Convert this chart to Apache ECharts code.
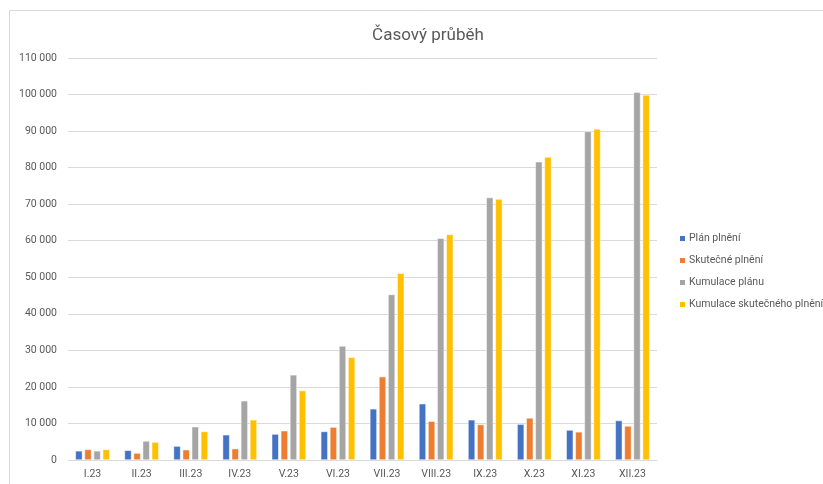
<!DOCTYPE html>
<html>
<head>
<meta charset="utf-8">
<script src="https://cdn.jsdelivr.net/npm/echarts@6/dist/echarts.min.js"></script>
<style>
  html, body { margin: 0; padding: 0; background: #fff; }
  #chart { width: 823px; height: 484px; }
</style>
</head>
<body>
<div id="chart"></div>
<script>
// kategorie (měsíce)
const months = ['I.23', 'II.23', 'III.23', 'IV.23', 'V.23', 'VI.23', 'VII.23', 'VIII.23', 'IX.23', 'X.23', 'XI.23', 'XII.23']
// hodnoty
const planPlneni = [2500, 2650, 3800, 6900, 7100, 7800, 14000, 15400, 11000, 9800, 8200, 10800]
const skutecnePlneni = [2900, 1900, 2800, 3100, 8000, 9000, 22800, 10600, 9700, 11500, 7700, 9300]
const kumulacePlanu = [2500, 5200, 9100, 16200, 23300, 31200, 45300, 60700, 71800, 81600, 89900, 100600]
const kumulaceSkutecne = [2900, 4900, 7800, 11000, 19000, 28100, 51100, 61700, 71400, 82900, 90600, 99900]
const seriesNames = ['Plán plnění', 'Skutečné plnění', 'Kumulace plánu', 'Kumulace skutečného plnění']
const colors = ['#4472C4', '#ED7D31', '#A5A5A5', '#FFC000']

const font = 'Roboto'
const chart = echarts.init(document.getElementById('chart'))

const dataSets = [planPlneni, skutecnePlneni, kumulacePlanu, kumulaceSkutecne]

chart.setOption({
    animation: false,
    color: colors,
    title: {
        text: 'Časový průběh',
        left: 423,
        top: 22,
        textAlign: 'center',
        textStyle: { fontFamily: font, fontSize: 17, fontWeight: 'normal', color: '#595959' }
    },
    graphic: [{
        // rámeček oblasti grafu
        type: 'rect',
        shape: { x: 9.5, y: 10.5, width: 900, height: 600 },
        style: { fill: 'none', stroke: '#d9d9d9', lineWidth: 1 },
        silent: true
    }],
    legend: {
        orient: 'vertical',
        left: 673,
        top: 228,
        itemWidth: 7,
        itemHeight: 7,
        itemGap: 11,
        icon: 'rect',
        textStyle: { fontFamily: font, fontSize: 10.5, color: '#595959', padding: [0, 0, 0, -2] },
        data: seriesNames
    },
    grid: { left: 68, right: 166, top: 58, bottom: 24 },
    xAxis: {
        type: 'category',
        data: months,
        axisTick: { show: false },
        axisLine: { lineStyle: { color: '#d9d9d9' } },
        axisLabel: { fontFamily: font, fontSize: 10.5, color: '#595959', margin: 9, interval: 0 }
    },
    yAxis: {
        type: 'value',
        min: 0,
        max: 110000,
        interval: 10000,
        axisLine: { show: false },
        axisTick: { show: false },
        splitLine: { lineStyle: { color: '#d9d9d9' } },
        axisLabel: {
            fontFamily: font, fontSize: 10.5, color: '#595959', margin: 11,
            formatter: v => String(v).replace(/\B(?=(\d{3})+(?!\d))/g, ' ')
        }
    },
    series: seriesNames.map((name, i) => ({
        name: name,
        type: 'bar',
        data: dataSets[i],
        barWidth: 7,
        barGap: '30%',
        itemStyle: { borderColor: '#fff', borderWidth: 0.5 }
    }))
})
</script>
</body>
</html>
